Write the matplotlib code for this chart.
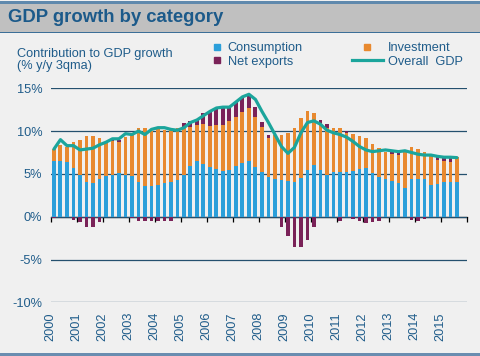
"""GDP growth by category: stacked contributions with overall GDP line."""
import matplotlib
matplotlib.use("Agg")
import matplotlib.pyplot as plt
import numpy as np
from matplotlib.lines import Line2D
from matplotlib.patches import Rectangle

plt.rcParams["font.family"] = ["Liberation Sans", "DejaVu Sans"]

# quarterly data, 2000Q1 .. 2015Q3 (% y/y 3qma contributions)
years = ["2000", "2001", "2002", "2003", "2004", "2005", "2006", "2007",
         "2008", "2009", "2010", "2011", "2012", "2013", "2014", "2015"]

consumption = [
    6.5, 6.5, 6.4, 5.7, 4.9, 4.0, 3.9, 4.4, 4.8, 4.9,
    5.1, 4.9, 4.7, 4.1, 3.6, 3.6, 3.7, 3.9, 4.1, 4.3,
    4.9, 5.9, 6.5, 6.2, 5.8, 5.6, 5.3, 5.5, 5.9, 6.3,
    6.5, 5.8, 5.2, 4.6, 4.4, 4.3, 4.15, 4.0, 4.5, 5.5,
    6.0, 5.5, 4.9, 5.2, 5.2, 5.2, 5.3, 5.6, 5.65, 5.15,
    4.6, 4.35, 4.15, 3.9, 3.4, 4.35, 4.35, 4.35, 3.75, 3.8,
    4.0, 4.0, 4.0,
]
investment = [
    1.4, 1.9, 1.7, 3.0, 4.1, 5.4, 5.5, 4.8, 3.9, 4.0,
    3.6, 4.4, 5.0, 6.3, 6.8, 6.4, 6.6, 6.2, 6.2, 6.1,
    5.5, 4.6, 4.2, 4.6, 4.8, 5.1, 5.4, 5.7, 5.7, 5.9,
    6.2, 5.9, 5.3, 4.6, 5.1, 5.25, 5.6, 6.35, 7.0, 6.8,
    6.1, 5.4, 5.5, 5.15, 5.2, 4.6, 4.35, 3.8, 3.55, 3.35,
    3.4, 3.25, 3.15, 3.3, 4.15, 3.75, 3.55, 3.25, 3.55, 2.85,
    2.55, 2.4, 3.0,
]
net_exports = [
    -0.2, 0.0, 0.0, -0.35, -0.65, -1.15, -1.2, -0.6, 0.0, 0.3,
    0.3, 0.0, -0.2, -0.45, -0.45, -0.45, -0.5, -0.5, -0.5, 0.0,
    0.5, 0.7, 0.7, 1.3, 1.8, 1.9, 2.0, 1.7, 1.8, 1.8,
    1.5, 1.1, 0.6, 0.4, 0.0, -1.2, -2.2, -3.5, -3.5, -2.7,
    -1.2, 0.4, 0.4, 0.0, -0.5, 0.2, -0.3, -0.5, -0.7, -0.6,
    -0.45, 0.0, 0.3, 0.25, 0.0, -0.4, -0.45, -0.25, 0.0, 0.35,
    0.35, 0.4, 0.0,
]
gdp = [
    7.9, 9.0, 8.3, 8.3, 7.8, 7.9, 8.0, 8.4, 8.7, 9.1,
    9.1, 9.7, 9.6, 10.0, 9.6, 10.2, 10.4, 10.4, 10.2, 10.1,
    10.4, 11.0, 11.3, 11.8, 12.3, 12.7, 12.8, 12.8, 13.4, 14.0,
    14.3, 13.7, 12.3, 11.0, 9.6, 8.2, 7.4, 8.1, 9.8, 11.0,
    11.2, 10.8, 10.1, 9.8, 9.6, 9.3, 8.8, 8.2, 7.8, 7.6,
    7.7, 7.8, 7.7, 7.6, 7.7, 7.5, 7.3, 7.2, 7.2, 7.05,
    6.95, 6.95, 6.9,
]

BLUE = "#2b9fda"
ORANGE = "#e8892f"
PURPLE = "#7a2258"
TEAL = "#1ba59c"
TEXT = "#1f5c8a"
GRID = "#24506e"
BG = "#f0f0f0"
FS = 9.2

fig = plt.figure(figsize=(4.81, 3.56), dpi=100, facecolor=BG)

# title band and borders
fig.add_artist(Rectangle((0, 1 - 32 / 356), 1, 29 / 356, transform=fig.transFigure,
                         facecolor="#c0c0c0", edgecolor="none"))
fig.add_artist(Rectangle((0, 1 - 3.5 / 356), 1, 2 / 356, transform=fig.transFigure,
                         facecolor="#5f89ad", edgecolor="none"))
fig.add_artist(Rectangle((0, 1 - 33 / 356), 1, 1.3 / 356, transform=fig.transFigure,
                         facecolor="#3c6f98", edgecolor="none"))
fig.add_artist(Rectangle((0, 0), 1, 3 / 356, transform=fig.transFigure,
                         facecolor="#6a8db0", edgecolor="none"))
fig.text(8 / 481, 1 - 17.5 / 356, "GDP growth by category", fontsize=13.3,
         fontweight="bold", color="#1c5a8a", va="center", ha="left")
fig.text(17 / 481, 1 - 60 / 356, "Contribution to GDP growth\n(% y/y 3qma)",
         fontsize=FS, color=TEXT, va="center", ha="left", linespacing=1.1)

ax = fig.add_axes([50.7 / 481, 1 - 302.3 / 356, 416 / 481, 214 / 356])
ax.set_facecolor(BG)
ax.set_axisbelow(True)

x = np.arange(len(gdp))
cons = np.array(consumption)
inv = np.array(investment)
net = np.array(net_exports)
width = 0.6

ax.bar(x, cons, width, color=BLUE, linewidth=0)
ax.bar(x, inv, width, bottom=cons, color=ORANGE, linewidth=0)
ax.bar(x, net, width, bottom=np.where(net > 0, cons + inv, 0), color=PURPLE, linewidth=0)
ax.plot(x, gdp, color=TEAL, lw=2.3, solid_joinstyle="round", solid_capstyle="round", zorder=4)

ymin, ymax = -10, 15
ax.set_ylim(ymin, ymax)
ax.set_xlim(-0.5, 63.5)
ax.set_yticks(range(-10, 16, 5))
ax.set_yticklabels([f"{v}%" for v in range(-10, 16, 5)])
ax.yaxis.grid(True, color=GRID, lw=0.9)
ax.tick_params(axis="y", length=0, pad=6, labelsize=FS, labelcolor=TEXT)

ticks = np.arange(-0.5, 64, 4)
ax.set_xticks(ticks[:len(years)])
ax.set_xticklabels(years, rotation=90, va="top", ha="center")
ax.tick_params(axis="x", length=0, pad=7, labelsize=FS, labelcolor=TEXT)
for s in ax.spines.values():
    s.set_visible(False)

zero = ax.secondary_xaxis((0 - ymin) / (ymax - ymin))
zero.set_xticks(ticks)
zero.tick_params(axis="x", length=3.5, width=0.9, direction="out", color="black",
                 labelbottom=False)
zero.spines["bottom"].set_color("black")
zero.spines["bottom"].set_linewidth(0.9)

# legends
fig.legend(
    handles=[Line2D([], [], ls="none", marker="s", ms=4.5, color=BLUE),
             Line2D([], [], ls="none", marker="s", ms=4.5, color=PURPLE)],
    labels=["Consumption", "Net exports"],
    loc="center left", bbox_to_anchor=(211 / 481, 1 - 55 / 356), frameon=False,
    fontsize=FS, handlelength=0.9, handletextpad=0.4, labelspacing=0.1,
    borderpad=0, borderaxespad=0, labelcolor=TEXT)
fig.legend(
    handles=[Line2D([], [], ls="none", marker="s", ms=4.5, color=ORANGE),
             Line2D([], [], color=TEAL, lw=2.3)],
    labels=["Investment", "Overall  GDP"],
    loc="center left", bbox_to_anchor=(352 / 481, 1 - 55 / 356), frameon=False,
    fontsize=FS, handlelength=2.4, handletextpad=0.4, labelspacing=0.1,
    borderpad=0, borderaxespad=0, labelcolor=TEXT)

fig.savefig("out.png", dpi=100, facecolor=BG)
